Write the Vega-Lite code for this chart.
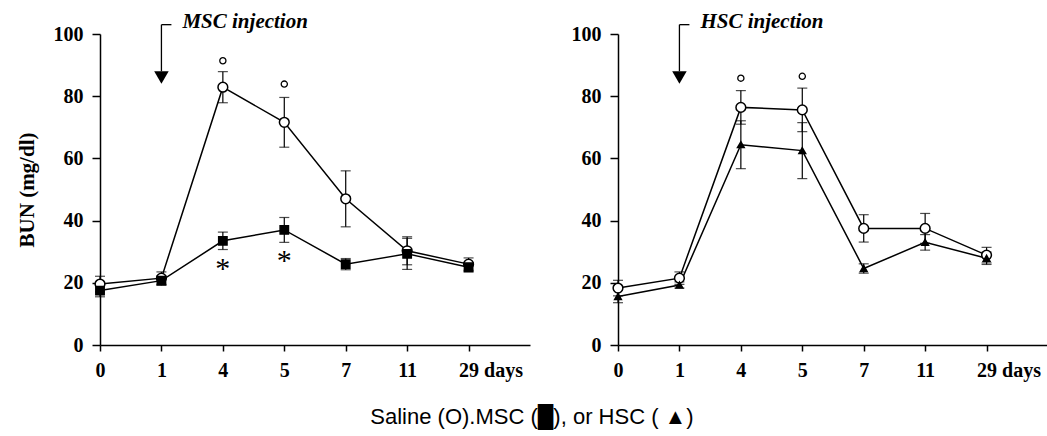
{
  "$schema": "https://vega.github.io/schema/vega-lite/v6.json",
  "background": "white",
  "padding": {"left": 16, "top": 10, "right": 0, "bottom": 2},
  "config": {
    "view": {"stroke": null},
    "axis": {
      "labelFont": "Liberation Serif", "labelFontWeight": "bold", "labelFontSize": 20, "labelColor": "black",
      "titleFont": "Liberation Serif", "titleFontWeight": "bold", "titleFontSize": 21, "titleColor": "black",
      "domainColor": "black", "domainWidth": 1.5, "tickColor": "black", "tickWidth": 1.5, "grid": false
    },
    "concat": {"spacing": 41}
  },
  "title": {
    "text": "Saline (O).MSC (█), or HSC ( ▲)",
    "orient": "bottom", "anchor": "middle", "font": "Liberation Sans", "fontSize": 22,
    "fontWeight": "normal", "color": "black", "offset": 27
  },
  "datasets": {
    "series": [
      {"panel": "MSC", "group": "Saline", "day": "0", "mean": 19.6, "err": 2.5},
      {"panel": "MSC", "group": "Saline", "day": "1", "mean": 21.5, "err": 2},
      {"panel": "MSC", "group": "Saline", "day": "4", "mean": 82.9, "err": 5},
      {"panel": "MSC", "group": "Saline", "day": "5", "mean": 71.6, "err": 8},
      {"panel": "MSC", "group": "Saline", "day": "7", "mean": 47, "err": 9},
      {"panel": "MSC", "group": "Saline", "day": "11", "mean": 30.3, "err": 4.5},
      {"panel": "MSC", "group": "Saline", "day": "29", "mean": 26, "err": 2},
      {"panel": "MSC", "group": "MSC", "day": "0", "mean": 17.5, "err": 2},
      {"panel": "MSC", "group": "MSC", "day": "1", "mean": 20.7, "err": 1.5},
      {"panel": "MSC", "group": "MSC", "day": "4", "mean": 33.5, "err": 2.8},
      {"panel": "MSC", "group": "MSC", "day": "5", "mean": 37, "err": 4},
      {"panel": "MSC", "group": "MSC", "day": "7", "mean": 26, "err": 1.8},
      {"panel": "MSC", "group": "MSC", "day": "11", "mean": 29.3, "err": 5},
      {"panel": "MSC", "group": "MSC", "day": "29", "mean": 25, "err": 1.5},
      {"panel": "HSC", "group": "Saline", "day": "0", "mean": 18.3, "err": 2.5},
      {"panel": "HSC", "group": "Saline", "day": "1", "mean": 21.5, "err": 2},
      {"panel": "HSC", "group": "Saline", "day": "4", "mean": 76.4, "err": 5.4},
      {"panel": "HSC", "group": "Saline", "day": "5", "mean": 75.6, "err": 7},
      {"panel": "HSC", "group": "Saline", "day": "7", "mean": 37.5, "err": 4.4},
      {"panel": "HSC", "group": "Saline", "day": "11", "mean": 37.5, "err": 4.8},
      {"panel": "HSC", "group": "Saline", "day": "29", "mean": 28.9, "err": 2.5},
      {"panel": "HSC", "group": "HSC", "day": "0", "mean": 15.6, "err": 2},
      {"panel": "HSC", "group": "HSC", "day": "1", "mean": 19.3, "err": 1},
      {"panel": "HSC", "group": "HSC", "day": "4", "mean": 64.4, "err": 7.7},
      {"panel": "HSC", "group": "HSC", "day": "5", "mean": 62.5, "err": 9},
      {"panel": "HSC", "group": "HSC", "day": "7", "mean": 24.6, "err": 1.5},
      {"panel": "HSC", "group": "HSC", "day": "11", "mean": 33, "err": 2.5},
      {"panel": "HSC", "group": "HSC", "day": "29", "mean": 27.9, "err": 2}
    ],
    "arrows": [
      {"panel": "MSC", "day": "1", "top": 103, "bot": 88, "tri": 86, "label": "MSC injection", "ly": 102},
      {"panel": "HSC", "day": "1", "top": 103, "bot": 88, "tri": 86, "label": "HSC injection", "ly": 102}
    ],
    "rings": [
      {"panel": "MSC", "day": "4", "y": 91.4},
      {"panel": "MSC", "day": "5", "y": 83.9},
      {"panel": "HSC", "day": "4", "y": 85.8},
      {"panel": "HSC", "day": "5", "y": 86.4}
    ],
    "stars": [
      {"panel": "MSC", "day": "4", "y": 26.6},
      {"panel": "MSC", "day": "5", "y": 29.3}
    ]
  },
  "hconcat": [
    {
      "width": 430, "height": 311,
      "encoding": {
        "x": {
          "field": "day", "type": "ordinal",
          "scale": {"type": "point", "domain": ["0", "1", "4", "5", "7", "11", "29", "pad"], "padding": 0},
          "axis": {
            "title": null, "values": ["0", "1", "4", "5", "7", "11", "29"], "labelAngle": 0,
            "tickSize": 6, "labelPadding": 9,
            "labelExpr": "datum.value == '29' ? '29 days' : datum.label",
            "labelAlign": {"condition": {"test": "datum.value == '29'", "value": "left"}, "value": "center"},
            "labelOffset": {"condition": {"test": "datum.value == '29'", "value": -10}, "value": 0}
          }
        }
      },
      "layer": [
        {
          "data": {"name": "series"},
          "transform": [{"filter": "datum.panel == 'MSC'"}],
          "mark": {"type": "errorbar", "ticks": {"size": 10}, "color": "black", "thickness": 1.2},
          "encoding": {
            "y": {"field": "mean", "type": "quantitative", "scale": {"domain": [0, 100], "nice": false},
                  "axis": {"title": "BUN (mg/dl)", "values": [0, 20, 40, 60, 80, 100], "tickSize": 8, "labelPadding": 9, "titlePadding": 16}},
            "yError": {"field": "err"},
            "detail": {"field": "group"}
          }
        },
        {
          "data": {"name": "series"},
          "transform": [{"filter": "datum.panel == 'MSC'"}],
          "mark": {"type": "line", "color": "black", "strokeWidth": 1.5},
          "encoding": {
            "y": {"field": "mean", "type": "quantitative"},
            "detail": {"field": "group"}
          }
        },
        {
          "data": {"name": "series"},
          "transform": [{"filter": "datum.panel == 'MSC'"}],
          "mark": {"type": "point", "filled": true, "stroke": "black", "strokeWidth": 1.5, "opacity": 1},
          "encoding": {
            "y": {"field": "mean", "type": "quantitative"},
            "shape": {"field": "group", "scale": {"domain": ["Saline", "MSC", "HSC"], "range": ["circle", "square", "triangle-up"]}, "legend": null},
            "fill": {"field": "group", "scale": {"domain": ["Saline", "MSC", "HSC"], "range": ["white", "black", "black"]}, "legend": null},
            "size": {"field": "group", "type": "nominal", "scale": {"domain": ["Saline", "MSC", "HSC"], "range": [95, 45, 100]}, "legend": null}
          }
        },
        {
          "data": {"name": "arrows"},
          "transform": [{"filter": "datum.panel == 'MSC'"}],
          "mark": {"type": "rule", "color": "black", "strokeWidth": 1.3},
          "encoding": {"y": {"field": "top", "type": "quantitative"}, "y2": {"field": "bot"}}
        },
        {
          "data": {"name": "arrows"},
          "transform": [{"filter": "datum.panel == 'MSC'"}],
          "mark": {"type": "point", "shape": "triangle-down", "filled": true, "color": "black", "size": 210, "opacity": 1},
          "encoding": {"y": {"field": "tri", "type": "quantitative"}}
        },
        {
          "data": {"name": "arrows"},
          "transform": [{"filter": "datum.panel == 'MSC'"}],
          "mark": {"type": "point", "shape": "M0,0H2", "filled": false, "stroke": "black", "strokeWidth": 1.3, "size": 100, "opacity": 1},
          "encoding": {"y": {"field": "top", "type": "quantitative"}}
        },
        {
          "data": {"name": "arrows"},
          "transform": [{"filter": "datum.panel == 'MSC'"}],
          "mark": {"type": "text", "align": "left", "baseline": "alphabetic", "dx": 21, "font": "Liberation Serif", "fontStyle": "italic", "fontWeight": "bold", "fontSize": 21, "color": "black"},
          "encoding": {"y": {"field": "ly", "type": "quantitative"}, "text": {"field": "label"}}
        },
        {
          "data": {"name": "rings"},
          "transform": [{"filter": "datum.panel == 'MSC'"}],
          "mark": {"type": "point", "shape": "circle", "filled": false, "stroke": "black", "strokeWidth": 1.3, "size": 38, "opacity": 1},
          "encoding": {"y": {"field": "y", "type": "quantitative"}}
        },
        {
          "data": {"name": "stars"},
          "transform": [{"filter": "datum.panel == 'MSC'"}],
          "mark": {"type": "text", "text": "*", "font": "Liberation Serif", "fontSize": 30, "baseline": "middle", "dy": 7, "color": "black"},
          "encoding": {"y": {"field": "y", "type": "quantitative"}}
        }
      ]
    },
    {
      "width": 430, "height": 311,
      "encoding": {
        "x": {
          "field": "day", "type": "ordinal",
          "scale": {"type": "point", "domain": ["0", "1", "4", "5", "7", "11", "29", "pad"], "padding": 0},
          "axis": {
            "title": null, "values": ["0", "1", "4", "5", "7", "11", "29"], "labelAngle": 0,
            "tickSize": 6, "labelPadding": 9,
            "labelExpr": "datum.value == '29' ? '29 days' : datum.label",
            "labelAlign": {"condition": {"test": "datum.value == '29'", "value": "left"}, "value": "center"},
            "labelOffset": {"condition": {"test": "datum.value == '29'", "value": -10}, "value": 0}
          }
        }
      },
      "layer": [
        {
          "data": {"name": "series"},
          "transform": [{"filter": "datum.panel == 'HSC'"}],
          "mark": {"type": "errorbar", "ticks": {"size": 10}, "color": "black", "thickness": 1.2},
          "encoding": {
            "y": {"field": "mean", "type": "quantitative", "scale": {"domain": [0, 100], "nice": false},
                  "axis": {"title": null, "values": [0, 20, 40, 60, 80, 100], "tickSize": 8, "labelPadding": 9}},
            "yError": {"field": "err"},
            "detail": {"field": "group"}
          }
        },
        {
          "data": {"name": "series"},
          "transform": [{"filter": "datum.panel == 'HSC'"}],
          "mark": {"type": "line", "color": "black", "strokeWidth": 1.5},
          "encoding": {
            "y": {"field": "mean", "type": "quantitative"},
            "detail": {"field": "group"}
          }
        },
        {
          "data": {"name": "series"},
          "transform": [{"filter": "datum.panel == 'HSC'"}],
          "mark": {"type": "point", "filled": true, "stroke": "black", "strokeWidth": 1.5, "opacity": 1},
          "encoding": {
            "y": {"field": "mean", "type": "quantitative"},
            "shape": {"field": "group", "scale": {"domain": ["Saline", "MSC", "HSC"], "range": ["circle", "square", "triangle-up"]}, "legend": null},
            "fill": {"field": "group", "scale": {"domain": ["Saline", "MSC", "HSC"], "range": ["white", "black", "black"]}, "legend": null},
            "size": {"field": "group", "type": "nominal", "scale": {"domain": ["Saline", "MSC", "HSC"], "range": [95, 45, 100]}, "legend": null}
          }
        },
        {
          "data": {"name": "arrows"},
          "transform": [{"filter": "datum.panel == 'HSC'"}],
          "mark": {"type": "rule", "color": "black", "strokeWidth": 1.3},
          "encoding": {"y": {"field": "top", "type": "quantitative"}, "y2": {"field": "bot"}}
        },
        {
          "data": {"name": "arrows"},
          "transform": [{"filter": "datum.panel == 'HSC'"}],
          "mark": {"type": "point", "shape": "triangle-down", "filled": true, "color": "black", "size": 210, "opacity": 1},
          "encoding": {"y": {"field": "tri", "type": "quantitative"}}
        },
        {
          "data": {"name": "arrows"},
          "transform": [{"filter": "datum.panel == 'HSC'"}],
          "mark": {"type": "point", "shape": "M0,0H2", "filled": false, "stroke": "black", "strokeWidth": 1.3, "size": 100, "opacity": 1},
          "encoding": {"y": {"field": "top", "type": "quantitative"}}
        },
        {
          "data": {"name": "arrows"},
          "transform": [{"filter": "datum.panel == 'HSC'"}],
          "mark": {"type": "text", "align": "left", "baseline": "alphabetic", "dx": 21, "font": "Liberation Serif", "fontStyle": "italic", "fontWeight": "bold", "fontSize": 21, "color": "black"},
          "encoding": {"y": {"field": "ly", "type": "quantitative"}, "text": {"field": "label"}}
        },
        {
          "data": {"name": "rings"},
          "transform": [{"filter": "datum.panel == 'HSC'"}],
          "mark": {"type": "point", "shape": "circle", "filled": false, "stroke": "black", "strokeWidth": 1.3, "size": 38, "opacity": 1},
          "encoding": {"y": {"field": "y", "type": "quantitative"}}
        }
      ]
    }
  ]
}
